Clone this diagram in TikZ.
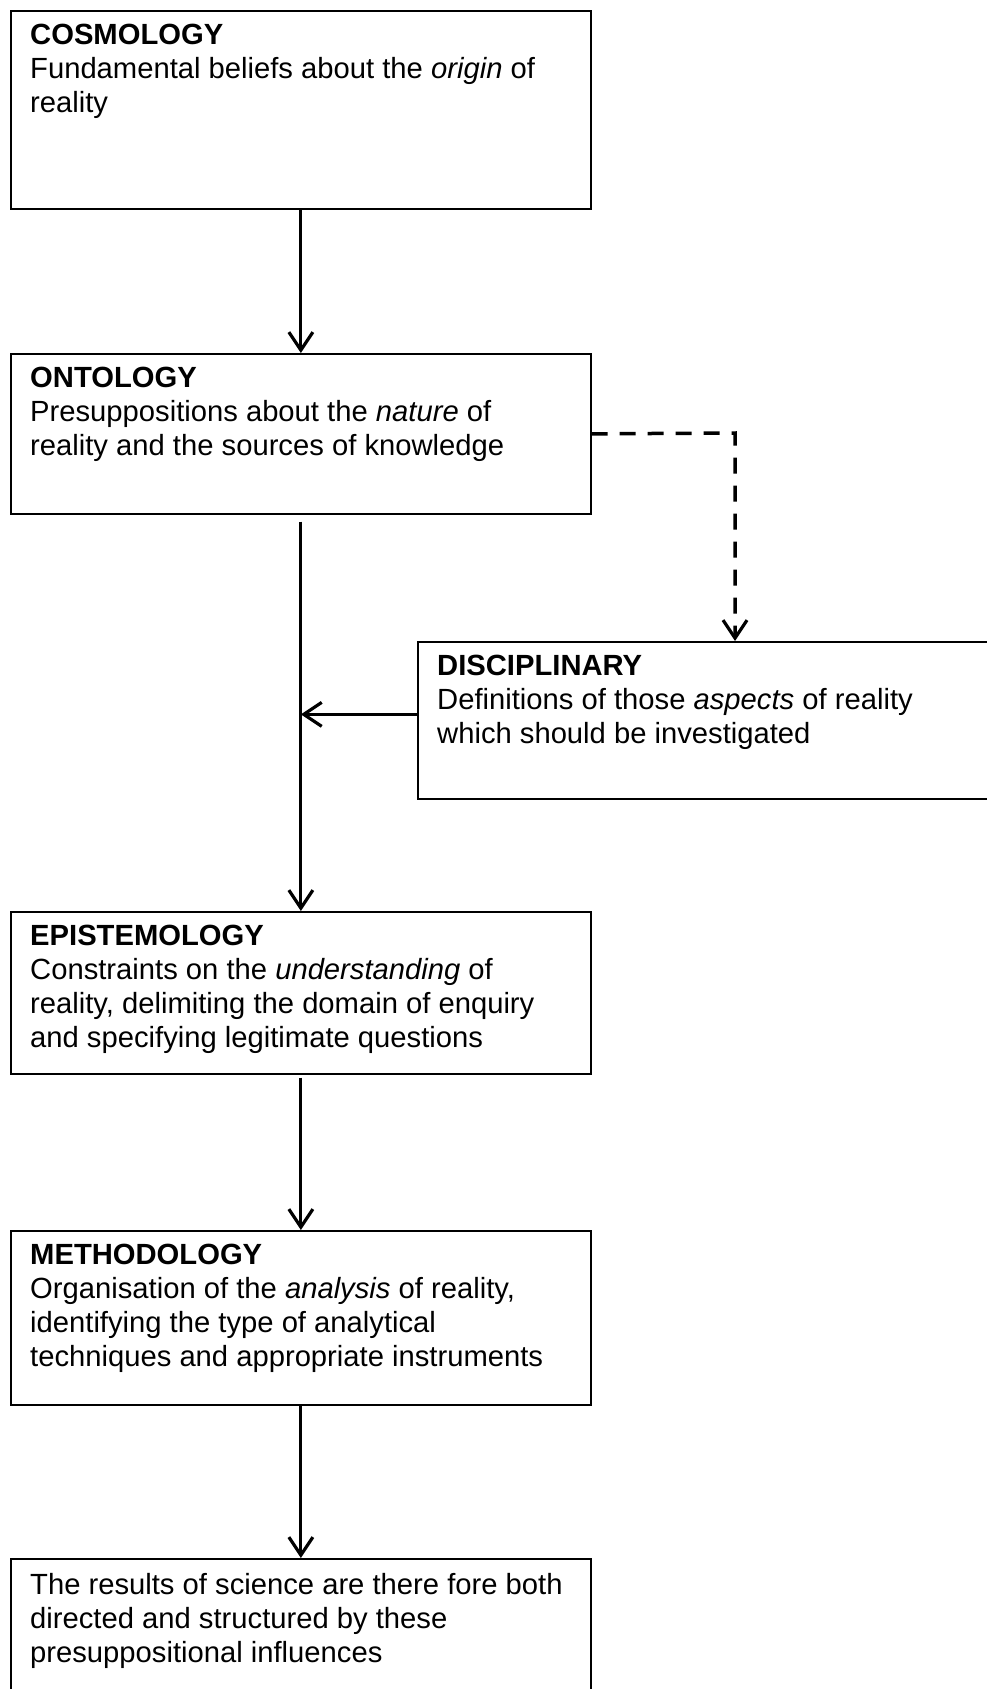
\documentclass[tikz,border=0pt]{standalone}
\usepackage{fontspec}
\setmainfont{Liberation Sans}
\usetikzlibrary{arrows.meta}
\tikzset{
  box/.style={draw, line width=1.7pt, anchor=north west, inner sep=0pt, minimum width=580pt},
  txt/.style={anchor=north west, inner sep=0pt, align=left, font=\fontsize{29.2}{34}\selectfont},
  arr/.style={line width=3.2pt, -{Straight Barb[length=18pt,width=24pt,line width=3.2pt]}},
  dasharr/.style={line width=3.5pt, dash pattern=on 16pt off 12pt, -{Straight Barb[length=18pt,width=24pt,line width=3.2pt]}}
}
\begin{document}
\begin{tikzpicture}[x=1pt,y=-1pt]
\clip (0,0) rectangle (987,1689);
\fill[white] (0,0) rectangle (987,1689);

% boxes
\node[box, minimum height=198pt] (cosmo) at (10,10) {};
\node[box, minimum height=160pt] (onto) at (10,353) {};
\node[box, minimum width=620pt, minimum height=157pt] (disc) at (417,641) {};
\node[box, minimum height=162pt] (epist) at (10,911) {};
\node[box, minimum height=174pt] (method) at (10,1230) {};
\node[box, minimum height=160pt] (result) at (10,1558) {};

% texts
\node[txt] (cosmoT) at ([shift={(20pt,-14pt)}]cosmo.north west)
  {\textbf{COSMOLOGY}\\Fundamental beliefs about the \textit{origin} of\\reality};
\node[txt] (ontoT) at ([shift={(20pt,-14pt)}]onto.north west)
  {\textbf{ONTOLOGY}\\Presuppositions about the \textit{nature} of\\reality and the sources of knowledge};
\node[txt] (discT) at ([shift={(20pt,-14pt)}]disc.north west)
  {\textbf{DISCIPLINARY}\\Definitions of those \textit{aspects} of reality\\which should be investigated};
\node[txt] (epistT) at ([shift={(20pt,-14pt)}]epist.north west)
  {\textbf{EPISTEMOLOGY}\\Constraints on the \textit{understanding} of\\reality, delimiting the domain of enquiry\\and specifying legitimate questions};
\node[txt] (methodT) at ([shift={(20pt,-14pt)}]method.north west)
  {\textbf{METHODOLOGY}\\Organisation of the \textit{analysis} of reality,\\identifying the type of analytical\\techniques and appropriate instruments};
\node[txt] (resultT) at ([shift={(20pt,-15pt)}]result.north west)
  {The results of science are there fore both\\directed and structured by these\\presuppositional influences};

% connectors
\coordinate (dbend) at (735,433);
\draw[arr] (cosmo.south) -- (onto.north);
\draw[arr] ([yshift=-7pt]onto.south) -- (epist.north);
\draw[arr] ([yshift=6pt]disc.west) -- ([yshift=6pt]disc.west -| onto.south);
\draw[dasharr] (onto.east) -- (dbend) -- (dbend |- disc.north);
\draw[arr] ([yshift=-3pt]epist.south) -- (method.north);
\draw[arr] (method.south) -- (result.north);
\end{tikzpicture}
\end{document}
